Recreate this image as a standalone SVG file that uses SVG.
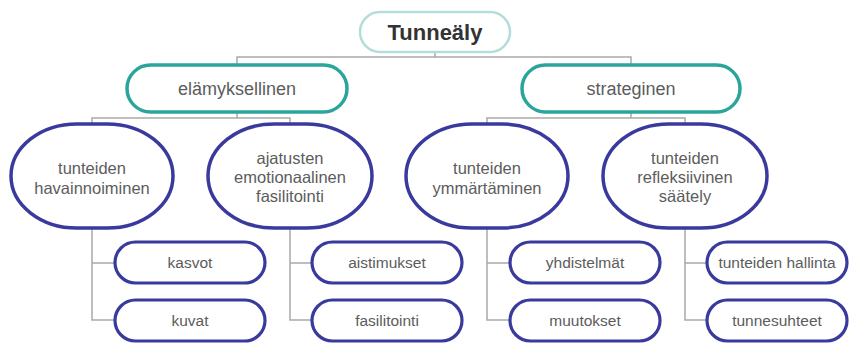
<svg xmlns="http://www.w3.org/2000/svg" width="849" height="343" viewBox="0 0 849 343">
<style>
.bg{fill:#ffffff}
.con{fill:none;stroke:#a9a9a9;stroke-width:1.5}
.root{fill:#ffffff;stroke:#b3ddd9;stroke-width:2.5}
.l1{fill:#ffffff;stroke:#2ba59b;stroke-width:3.5}
.l2{fill:#ffffff;stroke:#3a3a9e;stroke-width:3.5}
.lf{fill:#ffffff;stroke:#3a3a9e;stroke-width:3.2}
text{font-family:"Liberation Sans",Arial,sans-serif;text-anchor:middle;fill:#5c5c5c}
.tr{font-size:22px;font-weight:bold;fill:#333333}
.t1{font-size:18px}
.t2{font-size:16.5px}
.tl{font-size:15.5px}
</style>
<rect class="bg" x="0" y="0" width="849" height="343"/>
<g id="connectors">
<path class="con" d="M435 52V57M237 65V57H631V65"/>
<path class="con" d="M237 112V118M92 124V118H290V124"/>
<path class="con" d="M631 112V118M487 124V118H685V124"/>
<path class="con" d="M92 228V320H115M92 263H115"/>
<path class="con" d="M290 228V320H312M290 263H312"/>
<path class="con" d="M487 228V320H510M487 263H510"/>
<path class="con" d="M685 228V320H707M685 263H707"/>
</g>
<g id="root"><rect class="root" x="360" y="12" width="150" height="40" rx="20"/><text class="tr" x="435" y="40">Tunneäly</text></g>
<g id="elamyksellinen"><rect class="l1" x="127" y="65" width="220" height="47" rx="23.5"/><text class="t1" x="237" y="95">elämyksellinen</text></g>
<g id="strateginen"><rect class="l1" x="522" y="65" width="218" height="47" rx="23.5"/><text class="t1" x="631" y="95">strateginen</text></g>
<g id="havainnoiminen"><rect class="l2" x="11" y="124" width="162" height="104" rx="66" ry="52"/><text class="t2" x="92" y="174">tunteiden</text><text class="t2" x="92" y="194">havainnoiminen</text></g>
<g id="ajatusten"><rect class="l2" x="208" y="124" width="164" height="104" rx="66" ry="52"/><text class="t2" x="290" y="164">ajatusten</text><text class="t2" x="290" y="183">emotionaalinen</text><text class="t2" x="290" y="202">fasilitointi</text></g>
<g id="ymmartaminen"><rect class="l2" x="406" y="124" width="162" height="104" rx="66" ry="52"/><text class="t2" x="487" y="174">tunteiden</text><text class="t2" x="487" y="194">ymmärtäminen</text></g>
<g id="saately"><rect class="l2" x="603" y="124" width="164" height="104" rx="66" ry="52"/><text class="t2" x="685" y="164">tunteiden</text><text class="t2" x="685" y="183">refleksiivinen</text><text class="t2" x="685" y="202">säätely</text></g>
<g id="kasvot"><rect class="lf" x="115" y="242" width="150" height="41" rx="20.5"/><text class="tl" x="190" y="268">kasvot</text></g>
<g id="kuvat"><rect class="lf" x="115" y="300" width="150" height="41" rx="20.5"/><text class="tl" x="190" y="326">kuvat</text></g>
<g id="aistimukset"><rect class="lf" x="312" y="242" width="150" height="41" rx="20.5"/><text class="tl" x="387" y="268">aistimukset</text></g>
<g id="fasilitointi"><rect class="lf" x="312" y="300" width="150" height="41" rx="20.5"/><text class="tl" x="387" y="326">fasilitointi</text></g>
<g id="yhdistelmat"><rect class="lf" x="510" y="242" width="150" height="41" rx="20.5"/><text class="tl" x="585" y="268">yhdistelmät</text></g>
<g id="muutokset"><rect class="lf" x="510" y="300" width="150" height="41" rx="20.5"/><text class="tl" x="585" y="326">muutokset</text></g>
<g id="hallinta"><rect class="lf" x="707" y="242" width="140" height="41" rx="20.5"/><text class="tl" x="777" y="268">tunteiden hallinta</text></g>
<g id="tunnesuhteet"><rect class="lf" x="707" y="300" width="140" height="41" rx="20.5"/><text class="tl" x="777" y="326">tunnesuhteet</text></g>
</svg>
